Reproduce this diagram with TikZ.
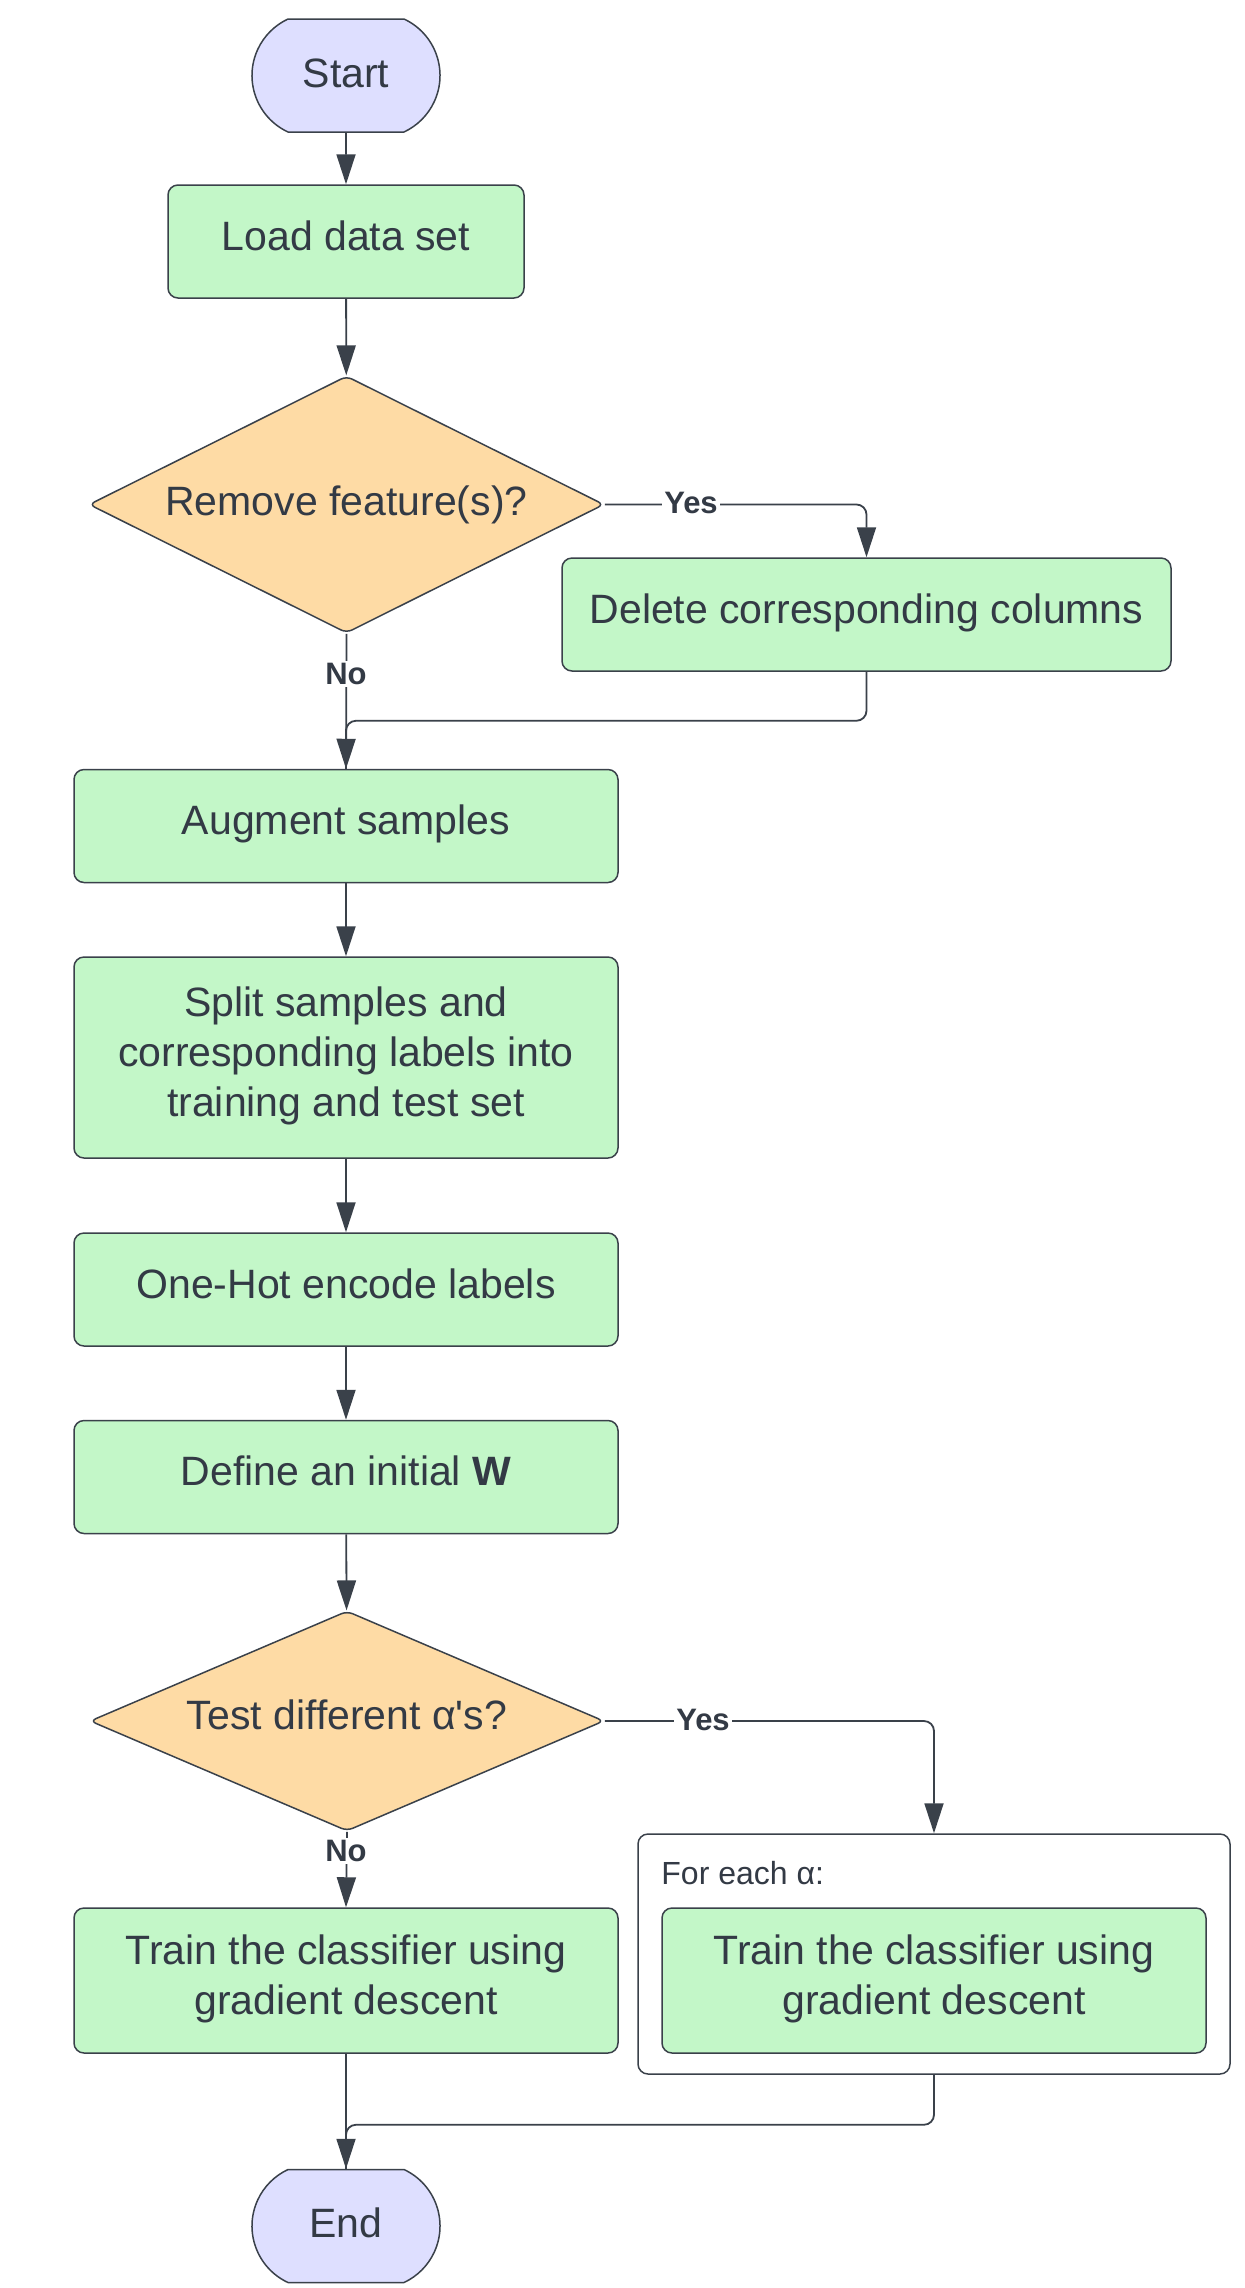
\documentclass[tikz,border=0pt]{standalone}
\usepackage{fontspec}
\setmainfont{Liberation Sans}
\usetikzlibrary{shapes.geometric,shapes.misc,arrows.meta}
\definecolor{gfill}{HTML}{C3F7C8}
\definecolor{ofill}{HTML}{FEDBA5}
\definecolor{tfill}{HTML}{DEDFFF}
\definecolor{ink}{HTML}{3A414A}
\definecolor{txt}{HTML}{333A45}
\newcommand{\strt}{\rule[-6.4pt]{0pt}{21.4pt}}
\newcommand{\tstrt}{\rule[-3.4pt]{0pt}{18.4pt}}
\begin{document}
\begin{tikzpicture}[x=0.5pt,y=-0.5pt,
  every node/.style={text=txt, font=\fontsize{20.5}{25}\selectfont, align=center, inner sep=0pt},
  term/.style={rounded rectangle, rounded rectangle arc length=130, draw=ink, line width=0.75pt, fill=tfill, minimum width=94pt, minimum height=56.5pt},
  procbox/.style={rectangle, rounded corners=5pt, draw=ink, line width=0.75pt, fill=gfill, minimum width=272pt, minimum height=56.5pt},
  decis/.style={diamond, rounded corners=3pt, draw=ink, line width=0.75pt, fill=ofill},
  conn/.style={draw=ink, line width=0.9pt, rounded corners=5pt},
  arr/.style={conn, -{Triangle[length=15pt,width=9.5pt]}},
  lbl/.style={fill=white, font=\fontsize{15.5}{18}\selectfont\bfseries, inner sep=1pt},
]
\useasboundingbox[fill=white] (0,0) rectangle (1245,2288);

\node[term] (start) at (346,75.5) {\tstrt Start};
\node[procbox, minimum width=178pt] (load) at (346,241.5) {\strt Load data set};
\node[decis, aspect=2, minimum width=257.5pt, minimum height=128.5pt] (d1) at (346.5,504.5) {Remove feature(s)?};
\node[procbox, minimum width=304.5pt] (del) at (866.5,614.5) {\strt Delete corresponding columns};
\node[procbox] (aug) at (346,826) {\strt Augment samples};
\node[procbox, minimum height=100.5pt] (split) at (346,1057.5) {\strt Split samples and\\\strt corresponding labels into\\\strt training and test set};
\node[procbox] (onehot) at (346,1289.5) {\strt One-Hot encode labels};
\node[procbox] (defw) at (346,1477) {\strt Define an initial \textbf{W}};
\node[decis, aspect=2.34, minimum width=257pt, minimum height=110pt] (d2) at (347,1721) {\strt Test different α\textquotesingle s?};
\node[procbox, minimum height=72.5pt] (train1) at (346,1980.5) {\strt Train the classifier using\\\strt gradient descent};
\node[rectangle, rounded corners=5pt, draw=ink, line width=0.75pt, fill=white, minimum width=296pt, minimum height=120pt] (cont) at (934,1954) {};
\node[anchor=west, font=\fontsize{16}{19}\selectfont] (foreach) at (661,1873) {For each α:};
\node[procbox, minimum height=72.5pt] (train2) at (934,1980.5) {\strt Train the classifier using\\\strt gradient descent};
\node[term] (end) at (346,2226) {\tstrt End};

\draw[arr] (start) -- (load);
\draw[arr] (load) -- (d1);
\draw[arr] (d1.east) -| (del.north);
\node[lbl] (yes1) at (691,503) {Yes};
\draw[arr] (d1.south) -- (aug.north);
\node[lbl] (no1) at (346,674) {No};
\draw[conn] (del.south) -- ++(0,49) -| (aug.north);
\draw[arr] (aug) -- (split);
\draw[arr] (split) -- (onehot);
\draw[arr] (onehot) -- (defw);
\draw[arr] (defw) -- (d2);
\draw[arr] (d2.east) -| (cont.north);
\node[lbl] (yes2) at (703,1720) {Yes};
\draw[arr] (d2.south) -- (train1.north);
\node[lbl] (no2) at (346,1851) {No};
\draw[arr] (train1) -- (end);
\draw[conn] (cont.south) -- ++(0,50) -| (end.north);
\end{tikzpicture}
\end{document}
